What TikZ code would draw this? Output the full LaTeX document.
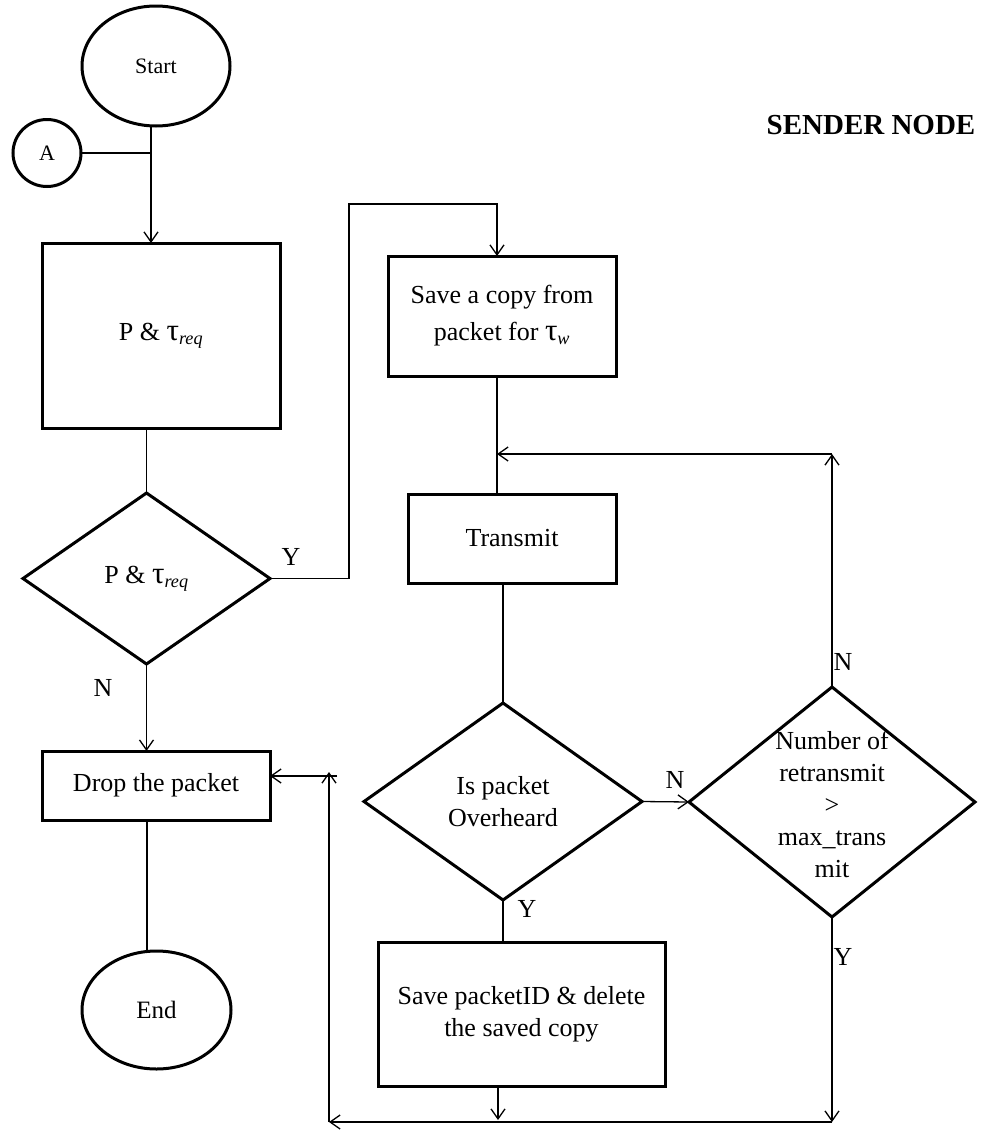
\documentclass[tikz,border=0pt]{standalone}
\usepackage{fontspec}
\setmainfont{Liberation Serif}
\usetikzlibrary{shapes.geometric,arrows.meta}
\newcommand\tsub[1]{\textsubscript{\itshape #1}}
\newcommand\bigtau{{\fontsize{31}{32}\selectfont τ}}
\begin{document}
\begin{tikzpicture}[x=1pt,y=-1pt,
  every node/.style={inner sep=0pt,outer sep=0pt,align=center,
    font=\fontsize{26}{32}\selectfont},
  blk/.style={draw,line width=3pt,rectangle},
  term/.style={draw,line width=3pt,ellipse},
  dec/.style={draw,line width=3pt,diamond},
  flow/.style={line width=1.3pt},
  arr/.style={flow,-{Straight Barb[length=10pt,width=14pt]}}]
\useasboundingbox (0,0) rectangle (982,1130);

% terminals and connector
\node[term,minimum width=148pt,minimum height=120pt,font=\fontsize{22}{26}\selectfont] (start) at (156,66) {Start};
\node[term,minimum width=68pt,minimum height=67pt,font=\fontsize{22}{26}\selectfont] (A) at (47,153) {A};
\node[term,minimum width=149pt,minimum height=118pt,font=\fontsize{25}{30}\selectfont] (end) at (156.5,1010) {End};

% process boxes
\node[blk,minimum width=238pt,minimum height=185pt] (chk) at (161,335.5) {P \& \bigtau\tsub{req}};
\node[blk,minimum width=228pt,minimum height=120pt,font=\fontsize{26}{37}\selectfont] (save) at (502,316) {Save a copy from\\packet for \bigtau\tsub{w}};
\node[blk,minimum width=208pt,minimum height=89pt] (tx) at (512,538.5) {Transmit};
\node[blk,minimum width=228pt,minimum height=69pt] (drop) at (156,785.5) {Drop the packet};
\node[blk,minimum width=287pt,minimum height=144pt] (keep) at (521.5,1014) {Save packetID \& delete\\the saved copy};

% decisions
\node[dec,minimum width=247pt,minimum height=171pt] (dec1) at (146.5,578.5) {P \& \bigtau\tsub{req}};
\node[dec,minimum width=278pt,minimum height=197pt] (ovh) at (503,801.5) {Is packet\\Overheard};
\node[dec,minimum width=286pt,minimum height=230pt] (retx) at (832,802) {};
\node (retxtext) at (832,804) {Number of\\retransmit\\>\\max\_trans\\mit};

% title
\node[font=\bfseries\fontsize{29}{34}\selectfont] (title) at (871,125) {SENDER NODE};

% branch labels
\node (y1) at (291,557) {Y};
\node (n1) at (103,688) {N};
\node (n2) at (675,780) {N};
\node (y2) at (527,909) {Y};
\node (n3) at (843,662) {N};
\node (y3) at (843,957) {Y};

% junction points
\coordinate (j0) at (151,153);
\coordinate (yk) at (349,204);
\coordinate (fbR) at (832,454);
\coordinate (fbL) at (497,454);
\coordinate (bR) at (832,1122);
\coordinate (bL) at (329,1122);
\coordinate (uT) at (329,772);
\coordinate (dT) at (337,776);

% connectors
\draw[flow] (A.east) -- (j0);
\draw[arr] ([xshift=-5pt]start.south) -- ([xshift=-5pt]start.south |- chk.north);
\draw[flow] (chk.south -| dec1.north) -- (dec1.north);
\draw[arr] (dec1.east) -| (yk) -| ([xshift=-5pt]save.north);
\draw[arr] (dec1.south) -- (dec1.south |- drop.north);
\draw[flow] ([xshift=-9pt]drop.south) -- ([xshift=-9pt]drop.south |- end.north);
\draw[flow] ([xshift=-5pt]save.south) -- ([xshift=-15pt]tx.north);
\draw[flow] (tx.south -| ovh.north) -- (ovh.north);
\draw[arr] (ovh.east) -- (retx.west);
\draw[flow] (ovh.south) -- (ovh.south |- keep.north);
\draw[arr] (retx.north) -- (fbR);
\draw[arr] (fbR) -- (fbL);
\draw[arr] (retx.south) -- (bR);
\draw[arr] ([xshift=-23.5pt]keep.south) -- ++(0,34);
\draw[arr] (bR) -- (bL);
\draw[arr] (bL) -- (uT);
\draw[arr] (dT) -- (dT -| drop.east);
\end{tikzpicture}
\end{document}
